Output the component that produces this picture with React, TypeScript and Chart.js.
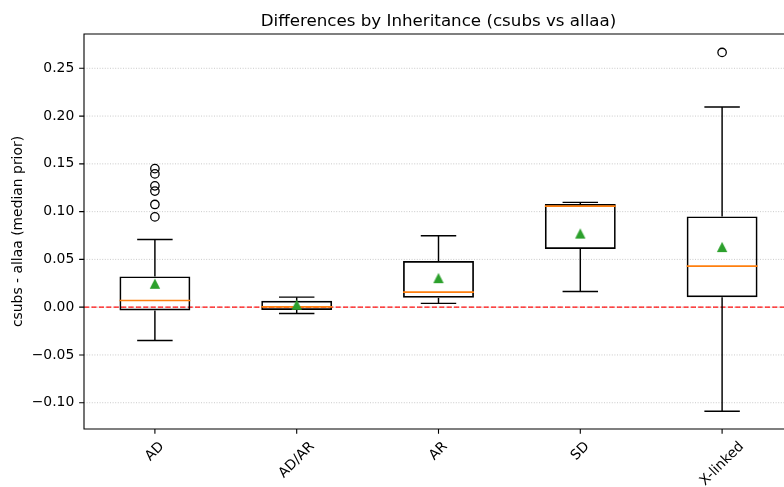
import React, { useEffect, useRef } from "react";
import { Chart, registerables } from "chart.js";

Chart.register(...registerables);

// ---- data ----
const categories = ["AD", "AD/AR", "AR", "SD", "X-linked"];
const q1Values = [-0.0035, -0.003, 0.0098, 0.061, 0.0105];
const q3Values = [0.0322, 0.0068, 0.0482, 0.108, 0.095];
const medianValues = [0.007, 0.0003, 0.0157, 0.1058, 0.043];
const meanValues = [0.0245, 0.0025, 0.0304, 0.077, 0.0629];
const whiskerLowValues = [-0.0349, -0.0066, 0.004, 0.0165, -0.109];
const whiskerHighValues = [0.0709, 0.0105, 0.0748, 0.1097, 0.2096];
const outlierCategories = ["AD", "AD", "AD", "AD", "AD", "AD", "X-linked"];
const outlierValues = [0.145, 0.1395, 0.127, 0.1215, 0.1075, 0.0945, 0.2666];
const yTickValues = [-0.1, -0.05, 0, 0.05, 0.1, 0.15, 0.2, 0.25];
const yMin = -0.1275;
const yMax = 0.2859;
const zeroLineValue = 0;

const titleText = "Differences by Inheritance (csubs vs allaa)";
const yLabelText = "csubs - allaa (median prior)";

const FONT = "'DejaVu Sans', 'Liberation Sans', sans-serif";
const TICK_SIZE = 13.9;
const TICK_LEN = 4.86;
const TICK_PAD = 4.86;
const LINE_W = 1.45;

const fmt = (v: number) => {
  const s = Number(v).toFixed(2);
  return s.startsWith("-") ? "\u2212" + s.slice(1) : s;
};

const bandWidth = (chart: any) => {
  const x = chart.scales.x;
  if (!x) return 140;
  return x.getPixelForValue(1) - x.getPixelForValue(0);
};

const extrasPlugin = {
  id: "boxplotExtras",
  beforeDatasetsDraw(chart: any) {
    const { ctx, chartArea: a, scales } = chart;
    const x = scales.x;
    const y = scales.y;
    ctx.save();
    // dotted y grid
    ctx.strokeStyle = "rgba(176,176,176,0.75)";
    ctx.lineWidth = 0.9;
    ctx.setLineDash([1, 1.6]);
    yTickValues.forEach((v) => {
      const py = y.getPixelForValue(v);
      ctx.beginPath();
      ctx.moveTo(a.left, py);
      ctx.lineTo(a.right, py);
      ctx.stroke();
    });
    // red dashed zero line
    ctx.strokeStyle = "rgba(255,0,0,0.95)";
    ctx.lineWidth = 1.35;
    ctx.setLineDash([5.2, 2.2]);
    const zy = y.getPixelForValue(zeroLineValue);
    ctx.beginPath();
    ctx.moveTo(a.left, zy);
    ctx.lineTo(a.right, zy);
    ctx.stroke();
    // whiskers
    ctx.setLineDash([]);
    ctx.strokeStyle = "#000";
    ctx.lineWidth = LINE_W;
    categories.forEach((_, i) => {
      const px = x.getPixelForValue(i);
      ctx.beginPath();
      ctx.moveTo(px, y.getPixelForValue(q3Values[i]));
      ctx.lineTo(px, y.getPixelForValue(whiskerHighValues[i]));
      ctx.moveTo(px, y.getPixelForValue(q1Values[i]));
      ctx.lineTo(px, y.getPixelForValue(whiskerLowValues[i]));
      ctx.stroke();
    });
    ctx.restore();
  },
  afterDatasetsDraw(chart: any) {
    const { ctx, chartArea: a, scales } = chart;
    const x = scales.x;
    const y = scales.y;
    ctx.save();
    ctx.setLineDash([]);
    ctx.strokeStyle = "#000";
    ctx.lineWidth = 1.1;
    // spines
    ctx.beginPath();
    ctx.moveTo(a.left, a.top);
    ctx.lineTo(a.right, a.top);
    ctx.lineTo(a.right, a.bottom);
    ctx.lineTo(a.left, a.bottom);
    ctx.closePath();
    ctx.stroke();
    // tick marks
    ctx.beginPath();
    yTickValues.forEach((v) => {
      const py = y.getPixelForValue(v);
      ctx.moveTo(a.left - TICK_LEN, py);
      ctx.lineTo(a.left, py);
    });
    categories.forEach((_, i) => {
      const px = x.getPixelForValue(i);
      ctx.moveTo(px, a.bottom);
      ctx.lineTo(px, a.bottom + TICK_LEN);
    });
    ctx.stroke();
    // x tick labels, rotated 45 deg, centred on tick
    ctx.fillStyle = "#000";
    ctx.font = `${TICK_SIZE}px ${FONT}`;
    ctx.textAlign = "center";
    ctx.textBaseline = "middle";
    const lineH = TICK_SIZE * 1.165;
    categories.forEach((label, i) => {
      const px = x.getPixelForValue(i);
      const w = ctx.measureText(label).width;
      const cy = a.bottom + TICK_LEN + TICK_PAD + ((w + lineH) * Math.SQRT1_2) / 2;
      ctx.save();
      ctx.translate(px, cy);
      ctx.rotate(-Math.PI / 4);
      ctx.fillText(label, 0, 0);
      ctx.restore();
    });
    // y label
    let maxW = 0;
    yTickValues.forEach((v) => {
      maxW = Math.max(maxW, ctx.measureText(fmt(v)).width);
    });
    const ylx = a.left - TICK_LEN - TICK_PAD - maxW - 5.56 - lineH / 2;
    ctx.save();
    ctx.translate(ylx, (a.top + a.bottom) / 2);
    ctx.rotate(-Math.PI / 2);
    ctx.fillText(yLabelText, 0, 0);
    ctx.restore();
    // title
    ctx.font = `16.7px ${FONT}`;
    ctx.textBaseline = "alphabetic";
    ctx.fillText(titleText, (a.left + a.right) / 2, a.top - 8.3);
    ctx.restore();
  },
};

function makeTriangle(): HTMLCanvasElement {
  const c = document.createElement("canvas");
  c.width = 12;
  c.height = 12;
  const g = c.getContext("2d")!;
  g.fillStyle = "#2ca02c";
  g.beginPath();
  g.moveTo(6, 0.8);
  g.lineTo(11.2, 11);
  g.lineTo(0.8, 11);
  g.closePath();
  g.fill();
  return c;
}

export default function App() {
  const ref = useRef<HTMLCanvasElement | null>(null);
  useEffect(() => {
    document.body.style.margin = "0";
    document.documentElement.style.overflow = "hidden";
    const canvas = ref.current!;
    const tri = makeTriangle();
    const chart = new Chart(canvas, {
      type: "bar",
      data: {
        labels: categories,
        datasets: [
          {
            type: "line",
            data: outlierCategories.map((c, i) => ({ x: c, y: outlierValues[i] })),
            showLine: false,
            pointStyle: "circle",
            pointRadius: 4.2,
            pointBackgroundColor: "rgba(0,0,0,0)",
            pointBorderColor: "#000",
            pointBorderWidth: 1.3,
          } as any,
          {
            type: "line",
            data: meanValues,
            showLine: false,
            pointStyle: tri,
            pointRadius: 6,
          } as any,
          {
            type: "line",
            data: medianValues,
            showLine: false,
            pointStyle: "line",
            pointRadius: (ctx: any) => bandWidth(ctx.chart) * 0.25,
            pointBorderColor: "#ff7f0e",
            pointBackgroundColor: "rgba(0,0,0,0)",
            pointBorderWidth: 1.6,
          } as any,
          {
            type: "line",
            data: whiskerHighValues,
            showLine: false,
            pointStyle: "line",
            pointRadius: (ctx: any) => bandWidth(ctx.chart) * 0.125,
            pointBorderColor: "#000",
            pointBackgroundColor: "rgba(0,0,0,0)",
            pointBorderWidth: LINE_W,
          } as any,
          {
            type: "line",
            data: whiskerLowValues,
            showLine: false,
            pointStyle: "line",
            pointRadius: (ctx: any) => bandWidth(ctx.chart) * 0.125,
            pointBorderColor: "#000",
            pointBackgroundColor: "rgba(0,0,0,0)",
            pointBorderWidth: LINE_W,
          } as any,
          {
            type: "bar",
            data: categories.map((_, i) => [q1Values[i], q3Values[i]]),
            backgroundColor: "rgba(0,0,0,0)",
            borderColor: "#000",
            borderWidth: 1.7,
            borderSkipped: false,
            barPercentage: 0.5,
            categoryPercentage: 1,
          } as any,
        ],
      },
      options: {
        responsive: false,
        animation: false,
        events: [],
        layout: { padding: { top: 34, right: 47, bottom: 58, left: 0 } },
        plugins: {
          legend: { display: false },
          tooltip: { enabled: false },
          title: { display: false },
        },
        scales: {
          x: { type: "category", display: false, offset: true },
          y: {
            type: "linear",
            min: yMin,
            max: yMax,
            afterBuildTicks: (s: any) => {
              s.ticks = yTickValues.map((v) => ({ value: v }));
            },
            afterFit: (s: any) => {
              s.width = 84;
            },
            grid: { display: false, drawTicks: false },
            border: { display: false },
            ticks: {
              padding: TICK_LEN + TICK_PAD,
              color: "#000",
              font: { family: FONT, size: TICK_SIZE },
              callback: (v: any) => fmt(Number(v)),
            },
          },
        },
      } as any,
      plugins: [extrasPlugin],
    });
    return () => chart.destroy();
  }, []);
  return (
    <div style={{ width: 784, height: 487, overflow: "hidden", position: "relative", background: "#fff" }}>
      <canvas ref={ref} width={840} height={487} style={{ display: "block" }} />
    </div>
  );
}
